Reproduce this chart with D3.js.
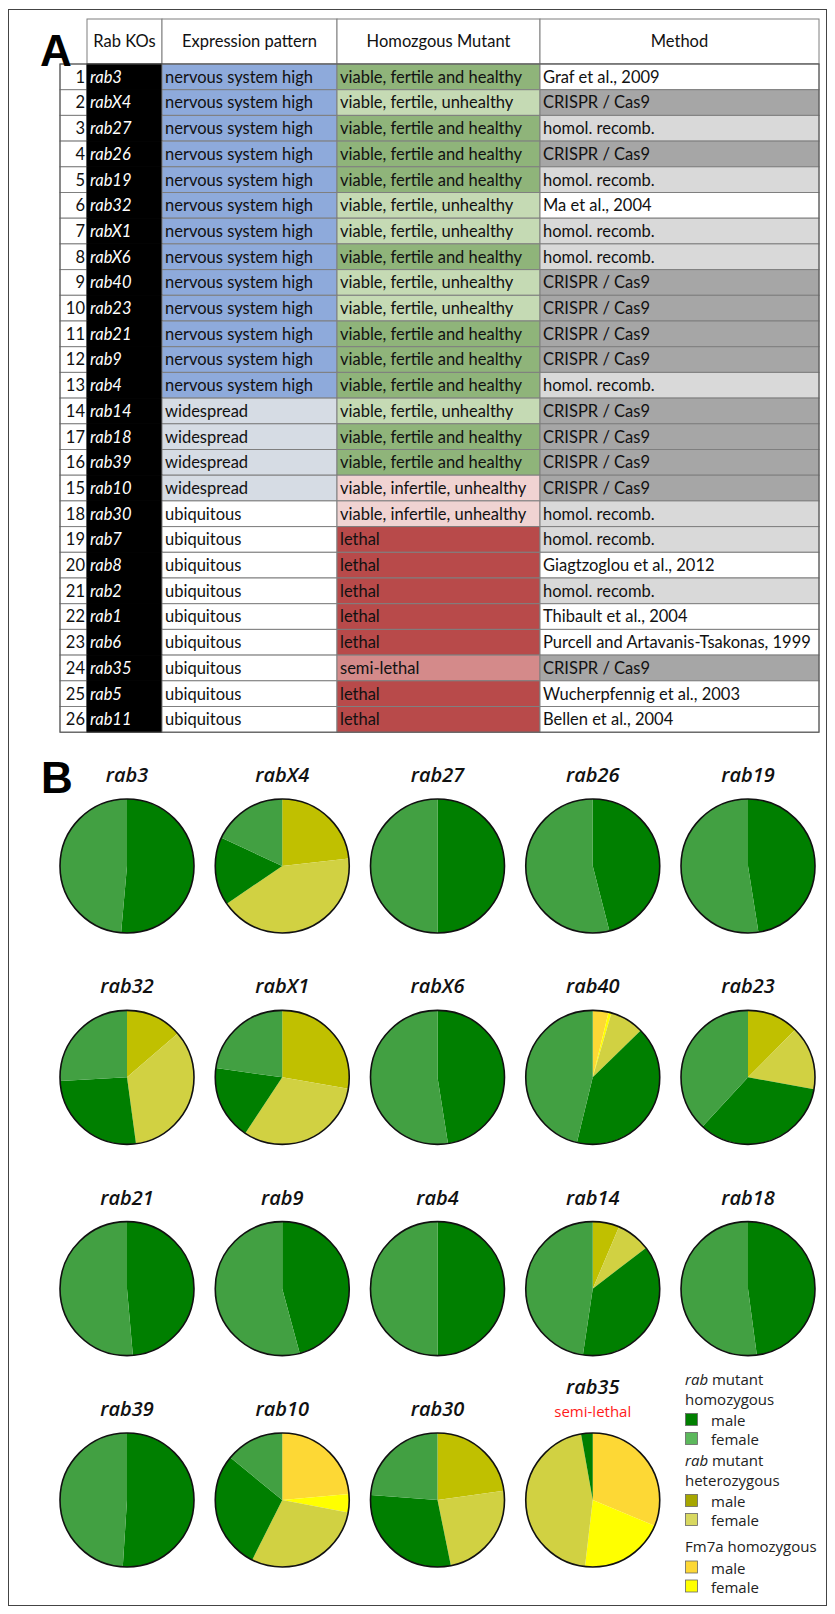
<!DOCTYPE html>
<html><head><meta charset="utf-8">
<script src="https://cdn.jsdelivr.net/npm/d3@7"></script>
<style>body{margin:0;background:#fff}svg{display:block}</style>
</head><body><svg id="c" width="835" height="1614"></svg>
<script>
// ---------- Table data ----------
const headers = ["Rab KOs", "Expression pattern", "Homozgous Mutant", "Method"];
const rowNumbers = [1,2,3,4,5,6,7,8,9,10,11,12,13,14,17,16,15,18,19,20,21,22,23,24,25,26];
const rabKOs = ["rab3","rabX4","rab27","rab26","rab19","rab32","rabX1","rabX6","rab40","rab23","rab21","rab9","rab4","rab14","rab18","rab39","rab10","rab30","rab7","rab8","rab2","rab1","rab6","rab35","rab5","rab11"];
const NS = "nervous system high", WS = "widespread", UB = "ubiquitous";
const expression = [NS,NS,NS,NS,NS,NS,NS,NS,NS,NS,NS,NS,NS,WS,WS,WS,WS,UB,UB,UB,UB,UB,UB,UB,UB,UB];
const VFH = "viable, fertile and healthy", VFU = "viable, fertile, unhealthy", VIU = "viable, infertile, unhealthy", LE = "lethal", SL = "semi-lethal";
const homozygous = [VFH,VFU,VFH,VFH,VFH,VFU,VFU,VFH,VFU,VFU,VFH,VFH,VFH,VFU,VFH,VFH,VIU,VIU,LE,LE,LE,LE,LE,SL,LE,LE];
const CR = "CRISPR / Cas9", HR = "homol. recomb.";
const method = ["Graf et al., 2009",CR,HR,CR,HR,"Ma et al., 2004",HR,HR,CR,CR,CR,CR,HR,CR,CR,CR,CR,HR,HR,"Giagtzoglou et al., 2012",HR,"Thibault et al., 2004","Purcell and Artavanis-Tsakonas, 1999",CR,"Wucherpfennig et al., 2003","Bellen et al., 2004"];

// ---------- Pie data (percent of progeny) ----------
const pieGenes  = ["rab3","rabX4","rab27","rab26","rab19","rab32","rabX1","rabX6","rab40","rab23","rab21","rab9","rab4","rab14","rab18","rab39","rab10","rab30","rab35"];
const fm7aMale   = [0,0,0,0,0, 0,0,0,3.8,0, 0,0,0,0,0, 0,23.6,0,31.3];
const fm7aFemale = [0,0,0,0,0, 0,0,0,0.7,0, 0,0,0,0,0, 0,4.4,0,20.6];
const hetMale    = [0,23.2,0,0,0, 13.7,27.7,0,0,12.4, 0,0,0,6.4,0, 0,0,22.8,0];
const hetFemale  = [0,42.3,0,0,0, 34.2,31.6,0,8.2,15.4, 0,0,0,8.2,0, 0,29.4,24.0,45.4];
const homMale    = [51.4,16.4,50,46,47.5, 26.3,17.9,47.5,41.1,34.0, 48.6,45.8,50,37.8,47.9, 51,28.5,29.4,2.8];
const homFemale  = [48.6,18.1,50,54,52.5, 25.9,22.8,52.5,46.2,38.1, 51.4,54.2,50,47.7,52.1, 49,14.1,23.8,0];
const categories = ["fm7aMale","fm7aFemale","hetMale","hetFemale","homMale","homFemale"];
const seriesByCat = {fm7aMale, fm7aFemale, hetMale, hetFemale, homMale, homFemale};
const semiLethalGenes = ["rab35"];

// legend
const legendGroups = [
  {title: ["rab", " mutant", "homozygous"], items: [["male","homMale"],["female","homFemale"]]},
  {title: ["rab", " mutant", "heterozygous"], items: [["male","hetMale"],["female","hetFemale"]]},
  {title: ["", "Fm7a homozygous", null], items: [["male","fm7aMale"],["female","fm7aFemale"]]}
];

// ---------- styles ----------
const pieColor = d3.scaleOrdinal(categories, ["#fdd835","#ffff00","#c0c000","#d1d142","#007f00","#42a042"]);
const legendColor = d3.scaleOrdinal(categories, ["#fdd835","#ffff00","#a6a600","#d8d860","#007f00","#5cb85c"]);
const exprFill = d3.scaleOrdinal([NS, WS, UB], ["#8eaadb","#d6dce4","#ffffff"]);
const homFill = d3.scaleOrdinal([VFH, VFU, VIU, LE, SL], ["#8fb47a","#c5dab4","#f0d3d2","#b84a4a","#d48a8a"]);
const methodFill = v => v === CR ? "#a6a6a6" : (v === HR ? "#d9d9d9" : "#ffffff");

const svg = d3.select("#c");
svg.append("rect").attr("x",8.5).attr("y",9.5).attr("width",818).attr("height",1596)
  .attr("fill","none").attr("stroke","#444").attr("stroke-width",1);

// ---------- table ----------
const colX = [60, 87, 162, 337, 540, 819];
const headTop = 19, headH = 45, rowH = 25.7;
const tableFont = "Lato, 'Open Sans', sans-serif";

// fit font size so long reference matches its measured width
const probe = svg.append("text").attr("font-family", tableFont).attr("font-size", 16)
  .text("Purcell and Artavanis-Tsakonas, 1999");
const fs = Math.min(17, 16 * 268 / probe.node().getComputedTextLength());
probe.remove();

const y = d3.scaleBand().domain(d3.range(rowNumbers.length))
  .range([headTop + headH, headTop + headH + rowH * rowNumbers.length]);

const tbl = svg.append("g");
// header
headers.forEach((h, i) => {
  tbl.append("rect").attr("x", colX[i+1]).attr("y", headTop).attr("width", colX[i+2]-colX[i+1]).attr("height", headH)
    .attr("fill","#fff").attr("stroke","#7f7f7f");
  tbl.append("text").attr("x",(colX[i+1]+colX[i+2])/2).attr("y", headTop + headH/2).attr("dy","0.35em")
    .attr("text-anchor","middle").attr("font-family",tableFont).attr("font-size",fs).attr("fill","#111").text(h);
});
const rows = tbl.selectAll("g.row").data(d3.range(rowNumbers.length)).join("g").attr("class","row")
  .attr("transform", i => `translate(0,${y(i)})`);
const cols = [
  {get: i => rowNumbers[i], fill: () => "#fff", color: "#111", anchor: "end", italic: false},
  {get: i => rabKOs[i], fill: () => "#000", color: "#fff", anchor: "start", italic: true},
  {get: i => expression[i], fill: i => exprFill(expression[i]), color: "#111", anchor: "start"},
  {get: i => homozygous[i], fill: i => homFill(homozygous[i]), color: "#111", anchor: "start"},
  {get: i => method[i], fill: i => methodFill(method[i]), color: "#111", anchor: "start"}
];
cols.forEach((c, ci) => {
  rows.append("rect").attr("x", colX[ci]).attr("y", 0).attr("width", colX[ci+1]-colX[ci]).attr("height", rowH)
    .attr("fill", i => c.fill(i)).attr("stroke", ci === 1 ? "#000" : "#7f7f7f").attr("stroke-width", 1);
});
cols.forEach((c, ci) => {
  rows.append("text")
    .attr("x", c.anchor === "end" ? colX[ci+1]-2 : colX[ci]+3)
    .attr("y", rowH/2).attr("dy","0.36em")
    .attr("text-anchor", c.anchor)
    .attr("font-family", tableFont).attr("font-size", fs)
    .attr("font-style", c.italic ? "italic" : "normal")
    .attr("font-weight", 400)
    .attr("fill", c.color).text(i => c.get(i));
});
tbl.append("rect").attr("x",colX[0]).attr("y",y(0)).attr("width",colX[5]-colX[0]).attr("height",rowH*rowNumbers.length)
  .attr("fill","none").attr("stroke","#555").attr("stroke-width",1);

// panel labels
svg.append("text").attr("x",40).attr("y",66).attr("font-family","'Liberation Sans', Arial, sans-serif")
  .attr("font-weight",700).attr("font-size",44).text("A");
svg.append("text").attr("x",41).attr("y",793).attr("font-family","'Liberation Sans', Arial, sans-serif")
  .attr("font-weight",700).attr("font-size",44).text("B");

// ---------- pies ----------
const nCols = 5;
const px = d3.scalePoint().domain(d3.range(nCols)).range([127, 748]);
const py = d3.scalePoint().domain(d3.range(4)).range([866, 1500]);
const R = 67;
const pie = d3.pie().sort(null).value(d => d.v);
const arc = d3.arc().innerRadius(0).outerRadius(R);

pieGenes.forEach((g, i) => {
  const cx = px(i % nCols), cy = py(Math.floor(i / nCols));
  const data = categories.map(k => ({k, v: seriesByCat[k][i]}));
  const gp = svg.append("g").attr("transform", `translate(${cx},${cy})`);
  gp.selectAll("path").data(pie(data).filter(d => d.data.v > 0)).join("path")
    .attr("d", arc).attr("fill", d => pieColor(d.data.k));
  gp.append("circle").attr("r", R).attr("fill","none").attr("stroke","#111").attr("stroke-width",1.6);
  const semi = semiLethalGenes.includes(g);
  gp.append("text").attr("x",0).attr("y", semi ? -106 : -84).attr("text-anchor","middle")
    .attr("font-family","'Open Sans', 'Noto Sans', sans-serif").attr("font-style","italic").attr("font-weight",600)
    .attr("font-size",20).attr("fill","#111").text(g);
  if (semi) {
    gp.append("text").attr("x",0).attr("y",-83).attr("text-anchor","middle")
      .attr("font-family","'Open Sans', sans-serif").attr("font-size",15).attr("fill","#ff1a1a").text("semi-lethal");
  }
});

// ---------- legend ----------
const lg = svg.append("g").attr("font-family","'Open Sans', sans-serif").attr("font-size",15).attr("fill","#222");
let ly = 1385;
legendGroups.forEach((grp, gi) => {
  const t = lg.append("text").attr("x",685).attr("y",ly);
  if (grp.title[0]) t.append("tspan").attr("font-style","italic").text(grp.title[0]);
  t.append("tspan").text(grp.title[1]);
  if (grp.title[2]) { ly += 19.5; lg.append("text").attr("x",685).attr("y",ly).text(grp.title[2]); }
  ly += 21.5;
  grp.items.forEach(([lab, k]) => {
    lg.append("rect").attr("x",685.5).attr("y",ly-12.5).attr("width",12).attr("height",12)
      .attr("fill",legendColor(k)).attr("stroke","#666").attr("stroke-width",0.8);
    lg.append("text").attr("x",711).attr("y",ly).text(lab);
    ly += 19;
  });
  ly += gi === 1 ? 7 : 2;
});
</script></body></html>
